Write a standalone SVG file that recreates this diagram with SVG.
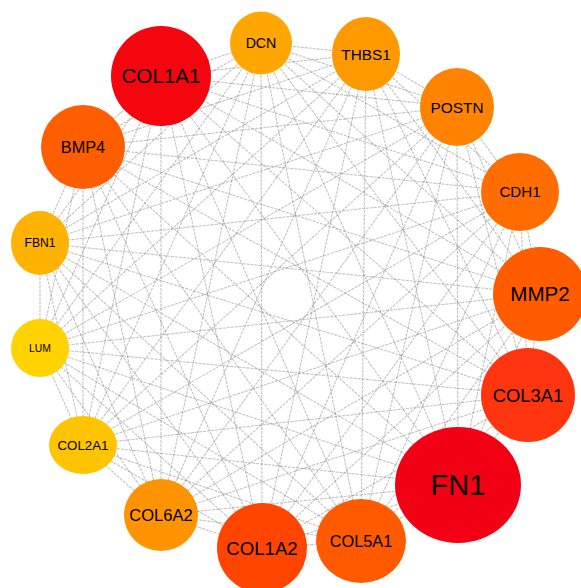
<svg xmlns="http://www.w3.org/2000/svg" width="581" height="588" viewBox="0 0 581 588">
<style>
.e{stroke:#8a8a8a;stroke-width:1.1;stroke-opacity:0.5;stroke-dasharray:3 1;fill:none}
.n text{font-family:"Liberation Sans",Arial,sans-serif;text-anchor:middle;fill:#000}
</style>
<rect width="581" height="588" fill="#fff"/>
<g id="edges">
<line class="e" x1="161" y1="76" x2="261" y2="43"/>
<line class="e" x1="161" y1="76" x2="366" y2="54"/>
<line class="e" x1="161" y1="76" x2="457" y2="107"/>
<line class="e" x1="161" y1="76" x2="520" y2="192"/>
<line class="e" x1="161" y1="76" x2="540" y2="294"/>
<line class="e" x1="161" y1="76" x2="528" y2="395"/>
<line class="e" x1="161" y1="76" x2="458" y2="485"/>
<line class="e" x1="161" y1="76" x2="361" y2="541"/>
<line class="e" x1="161" y1="76" x2="262" y2="548"/>
<line class="e" x1="161" y1="76" x2="161" y2="515"/>
<line class="e" x1="161" y1="76" x2="83" y2="445"/>
<line class="e" x1="161" y1="76" x2="40" y2="348"/>
<line class="e" x1="161" y1="76" x2="40" y2="243"/>
<line class="e" x1="161" y1="76" x2="83" y2="147"/>
<line class="e" x1="261" y1="43" x2="366" y2="54"/>
<line class="e" x1="261" y1="43" x2="457" y2="107"/>
<line class="e" x1="261" y1="43" x2="520" y2="192"/>
<line class="e" x1="261" y1="43" x2="540" y2="294"/>
<line class="e" x1="261" y1="43" x2="528" y2="395"/>
<line class="e" x1="261" y1="43" x2="458" y2="485"/>
<line class="e" x1="261" y1="43" x2="361" y2="541"/>
<line class="e" x1="261" y1="43" x2="262" y2="548"/>
<line class="e" x1="261" y1="43" x2="161" y2="515"/>
<line class="e" x1="261" y1="43" x2="83" y2="445"/>
<line class="e" x1="261" y1="43" x2="40" y2="348"/>
<line class="e" x1="261" y1="43" x2="40" y2="243"/>
<line class="e" x1="261" y1="43" x2="83" y2="147"/>
<line class="e" x1="366" y1="54" x2="457" y2="107"/>
<line class="e" x1="366" y1="54" x2="520" y2="192"/>
<line class="e" x1="366" y1="54" x2="540" y2="294"/>
<line class="e" x1="366" y1="54" x2="528" y2="395"/>
<line class="e" x1="366" y1="54" x2="458" y2="485"/>
<line class="e" x1="366" y1="54" x2="361" y2="541"/>
<line class="e" x1="366" y1="54" x2="262" y2="548"/>
<line class="e" x1="366" y1="54" x2="161" y2="515"/>
<line class="e" x1="366" y1="54" x2="83" y2="445"/>
<line class="e" x1="366" y1="54" x2="40" y2="348"/>
<line class="e" x1="366" y1="54" x2="40" y2="243"/>
<line class="e" x1="366" y1="54" x2="83" y2="147"/>
<line class="e" x1="457" y1="107" x2="520" y2="192"/>
<line class="e" x1="457" y1="107" x2="540" y2="294"/>
<line class="e" x1="457" y1="107" x2="528" y2="395"/>
<line class="e" x1="457" y1="107" x2="458" y2="485"/>
<line class="e" x1="457" y1="107" x2="361" y2="541"/>
<line class="e" x1="457" y1="107" x2="262" y2="548"/>
<line class="e" x1="457" y1="107" x2="161" y2="515"/>
<line class="e" x1="457" y1="107" x2="83" y2="445"/>
<line class="e" x1="457" y1="107" x2="40" y2="348"/>
<line class="e" x1="457" y1="107" x2="40" y2="243"/>
<line class="e" x1="457" y1="107" x2="83" y2="147"/>
<line class="e" x1="520" y1="192" x2="540" y2="294"/>
<line class="e" x1="520" y1="192" x2="528" y2="395"/>
<line class="e" x1="520" y1="192" x2="458" y2="485"/>
<line class="e" x1="520" y1="192" x2="361" y2="541"/>
<line class="e" x1="520" y1="192" x2="262" y2="548"/>
<line class="e" x1="520" y1="192" x2="161" y2="515"/>
<line class="e" x1="520" y1="192" x2="83" y2="445"/>
<line class="e" x1="520" y1="192" x2="40" y2="348"/>
<line class="e" x1="520" y1="192" x2="40" y2="243"/>
<line class="e" x1="520" y1="192" x2="83" y2="147"/>
<line class="e" x1="540" y1="294" x2="528" y2="395"/>
<line class="e" x1="540" y1="294" x2="458" y2="485"/>
<line class="e" x1="540" y1="294" x2="361" y2="541"/>
<line class="e" x1="540" y1="294" x2="262" y2="548"/>
<line class="e" x1="540" y1="294" x2="161" y2="515"/>
<line class="e" x1="540" y1="294" x2="83" y2="445"/>
<line class="e" x1="540" y1="294" x2="40" y2="348"/>
<line class="e" x1="540" y1="294" x2="40" y2="243"/>
<line class="e" x1="540" y1="294" x2="83" y2="147"/>
<line class="e" x1="528" y1="395" x2="458" y2="485"/>
<line class="e" x1="528" y1="395" x2="361" y2="541"/>
<line class="e" x1="528" y1="395" x2="262" y2="548"/>
<line class="e" x1="528" y1="395" x2="161" y2="515"/>
<line class="e" x1="528" y1="395" x2="83" y2="445"/>
<line class="e" x1="528" y1="395" x2="40" y2="348"/>
<line class="e" x1="528" y1="395" x2="40" y2="243"/>
<line class="e" x1="528" y1="395" x2="83" y2="147"/>
<line class="e" x1="458" y1="485" x2="361" y2="541"/>
<line class="e" x1="458" y1="485" x2="262" y2="548"/>
<line class="e" x1="458" y1="485" x2="161" y2="515"/>
<line class="e" x1="458" y1="485" x2="83" y2="445"/>
<line class="e" x1="458" y1="485" x2="40" y2="348"/>
<line class="e" x1="458" y1="485" x2="40" y2="243"/>
<line class="e" x1="458" y1="485" x2="83" y2="147"/>
<line class="e" x1="361" y1="541" x2="262" y2="548"/>
<line class="e" x1="361" y1="541" x2="161" y2="515"/>
<line class="e" x1="361" y1="541" x2="83" y2="445"/>
<line class="e" x1="361" y1="541" x2="40" y2="348"/>
<line class="e" x1="361" y1="541" x2="40" y2="243"/>
<line class="e" x1="361" y1="541" x2="83" y2="147"/>
<line class="e" x1="262" y1="548" x2="161" y2="515"/>
<line class="e" x1="262" y1="548" x2="83" y2="445"/>
<line class="e" x1="262" y1="548" x2="40" y2="348"/>
<line class="e" x1="262" y1="548" x2="40" y2="243"/>
<line class="e" x1="262" y1="548" x2="83" y2="147"/>
<line class="e" x1="161" y1="515" x2="83" y2="445"/>
<line class="e" x1="161" y1="515" x2="40" y2="348"/>
<line class="e" x1="161" y1="515" x2="40" y2="243"/>
<line class="e" x1="161" y1="515" x2="83" y2="147"/>
<line class="e" x1="83" y1="445" x2="40" y2="348"/>
<line class="e" x1="83" y1="445" x2="40" y2="243"/>
<line class="e" x1="83" y1="445" x2="83" y2="147"/>
<line class="e" x1="40" y1="348" x2="40" y2="243"/>
<line class="e" x1="40" y1="348" x2="83" y2="147"/>
<line class="e" x1="40" y1="243" x2="83" y2="147"/>
</g>
<g id="node-COL1A1" class="n"><ellipse cx="161" cy="76" rx="50" ry="50" fill="#F5060F"/><text x="161" y="83.4" font-size="20.6">COL1A1</text></g>
<g id="node-DCN" class="n"><ellipse cx="261" cy="43" rx="31" ry="31.5" fill="#FFA600"/><text x="261" y="48.1" font-size="14.2">DCN</text></g>
<g id="node-THBS1" class="n"><ellipse cx="366" cy="54" rx="34" ry="37" fill="#FF9900"/><text x="366" y="59.5" font-size="15.3">THBS1</text></g>
<g id="node-POSTN" class="n"><ellipse cx="457" cy="107" rx="37" ry="39" fill="#FF8300"/><text x="457" y="112.5" font-size="15.4">POSTN</text></g>
<g id="node-CDH1" class="n"><ellipse cx="520" cy="192" rx="39" ry="39" fill="#FF6D00"/><text x="520" y="197.4" font-size="15.1">CDH1</text></g>
<g id="node-MMP2" class="n"><ellipse cx="540" cy="294" rx="47" ry="47" fill="#FF5C00"/><text x="540" y="301.4" font-size="20.6">MMP2</text></g>
<g id="node-COL3A1" class="n"><ellipse cx="528" cy="395" rx="47" ry="47" fill="#FF3510"/><text x="528" y="401.6" font-size="18.4">COL3A1</text></g>
<g id="node-FN1" class="n"><ellipse cx="458" cy="485" rx="63" ry="58" fill="#F20014"/><text x="458" y="495.4" font-size="29">FN1</text></g>
<g id="node-COL5A1" class="n"><ellipse cx="361" cy="541" rx="45" ry="42" fill="#FF5A00"/><text x="361" y="546.9" font-size="16.3">COL5A1</text></g>
<g id="node-COL1A2" class="n"><ellipse cx="262" cy="548" rx="45" ry="45" fill="#FF4500"/><text x="262" y="554.7" font-size="18.6">COL1A2</text></g>
<g id="node-COL6A2" class="n"><ellipse cx="161" cy="515" rx="37" ry="36" fill="#FF9300"/><text x="161" y="520.9" font-size="16.5">COL6A2</text></g>
<g id="node-COL2A1" class="n"><ellipse cx="83" cy="445" rx="34" ry="29" fill="#FFC400"/><text x="83" y="449.8" font-size="13.3">COL2A1</text></g>
<g id="node-LUM" class="n"><ellipse cx="40" cy="348" rx="29" ry="29" fill="#FFD200"/><text x="40" y="351.7" font-size="10.4">LUM</text></g>
<g id="node-FBN1" class="n"><ellipse cx="40" cy="243" rx="29" ry="32" fill="#FFB300"/><text x="40" y="247.4" font-size="12.1">FBN1</text></g>
<g id="node-BMP4" class="n"><ellipse cx="83" cy="147" rx="42" ry="42" fill="#FF5E00"/><text x="83" y="152.9" font-size="16.3">BMP4</text></g>
</svg>
